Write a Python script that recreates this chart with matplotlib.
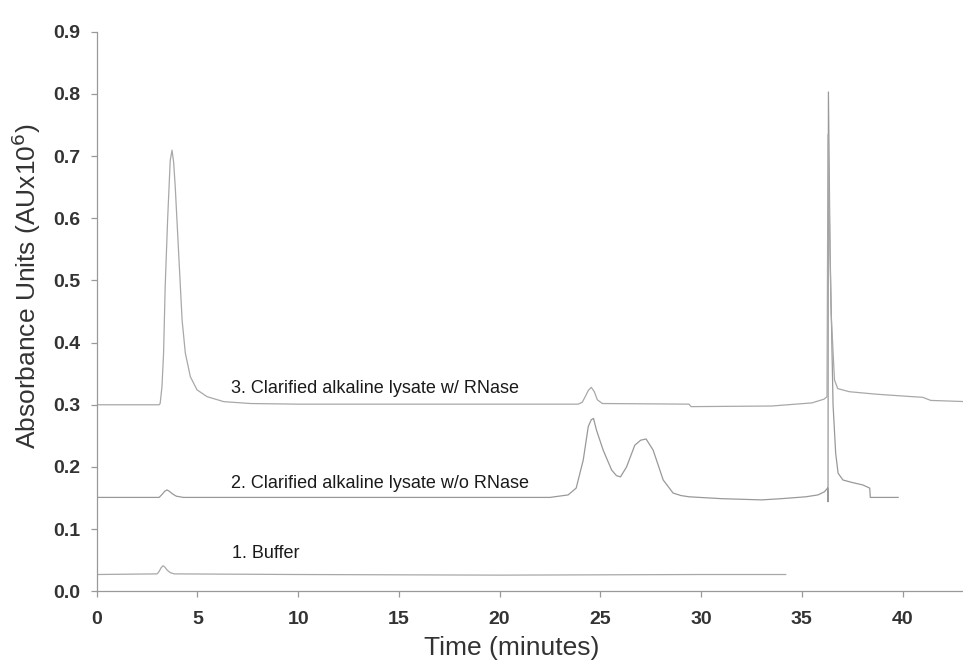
#importing matplotlib
import matplotlib
matplotlib.use("Agg")
import matplotlib.pyplot as plt

plt.rcParams['font.family'] = ['Liberation Sans', 'DejaVu Sans']

#trace 1 - buffer
t1_time = [0, 3.0, 3.1, 3.2, 3.29, 3.38, 3.5, 3.65, 3.85, 10, 20, 30, 34.2]
t1_abs = [0.027, 0.028, 0.032, 0.038, 0.041, 0.039, 0.034, 0.030, 0.028, 0.027, 0.026,
          0.027, 0.027]

#trace 2 - lysate without RNase
t2_time = [0, 3.1, 3.25, 3.38, 3.49, 3.6, 3.75, 3.95, 4.3, 10, 22.5, 23.4, 23.8, 24.15,
           24.4, 24.55, 24.66, 24.81, 25.14, 25.56, 25.8, 26.0, 26.3, 26.71, 27.0, 27.27,
           27.62, 28.12, 28.61, 29.0, 29.4, 31, 32, 33, 34, 35.2, 35.8, 36.12, 36.28,
           36.3, 36.32, 36.4, 36.55, 36.68, 36.8, 37.04, 37.5, 38.03, 38.37, 38.4, 39.78]
t2_abs = [0.151, 0.151, 0.156, 0.161, 0.163, 0.161, 0.157, 0.153, 0.151, 0.151, 0.151,
          0.155, 0.166, 0.211, 0.265, 0.276, 0.278, 0.259, 0.227, 0.195, 0.186, 0.184,
          0.200, 0.235, 0.243, 0.245, 0.227, 0.179, 0.158, 0.154, 0.152, 0.149, 0.148,
          0.147, 0.149, 0.152, 0.155, 0.160, 0.166, 0.144, 0.803, 0.55, 0.30, 0.222,
          0.19, 0.179, 0.175, 0.171, 0.166, 0.151, 0.151]

#trace 3 - lysate with RNase
t3_time = [0, 3.1, 3.15, 3.24, 3.32, 3.40, 3.52, 3.65, 3.74, 3.82, 3.90, 4.07, 4.24,
           4.40, 4.65, 4.98, 5.48, 6.31, 7.64, 10, 23.9, 24.1, 24.25, 24.4, 24.55, 24.7,
           24.85, 25.1, 29.4, 29.5, 33.5, 35.5, 36.1, 36.25, 36.3, 36.45, 36.62, 36.78,
           37.36, 38.7, 40.5, 41.0, 41.4, 43.2]
t3_abs = [0.300, 0.300, 0.302, 0.329, 0.383, 0.49, 0.597, 0.693, 0.7095, 0.69, 0.650,
          0.543, 0.436, 0.383, 0.345, 0.324, 0.313, 0.305, 0.302, 0.301, 0.301, 0.304,
          0.313, 0.323, 0.328, 0.321, 0.308, 0.302, 0.301, 0.297, 0.298, 0.303, 0.309,
          0.313, 0.735, 0.45, 0.340, 0.326, 0.321, 0.317, 0.313, 0.312, 0.307, 0.305]

labels = ["1. Buffer", "2. Clarified alkaline lysate w/o RNase",
          "3. Clarified alkaline lysate w/ RNase"]
label_x = [6.7, 6.65, 6.65]
label_y = [0.0612, 0.1736, 0.326]

#figure
fig = plt.figure(figsize=(9.63, 6.62), dpi=100)
ax = fig.add_axes([0.1004, 0.1068, 0.8996, 0.8453])

ax.plot(t1_time, t1_abs, color='#a8a8a8', lw=0.9)
ax.plot(t2_time, t2_abs, color='#999999', lw=0.9)
ax.plot(t3_time, t3_abs, color='#a8a8a8', lw=0.9)

for txt, x, y in zip(labels, label_x, label_y):
    ax.text(x, y, txt, ha='left', va='center', fontsize=13, color='#1a1a1a')

ax.set_xlim(0, 43.0)
ax.set_ylim(0, 0.9)
ax.set_xticks(range(0, 45, 5))
ax.set_yticks([i / 10 for i in range(10)])
ax.set_yticklabels(['%.1f' % (i / 10) for i in range(10)])

#axes style
for s in ['top', 'right']:
    ax.spines[s].set_visible(False)
for s in ['left', 'bottom']:
    ax.spines[s].set_color('#999999')
    ax.spines[s].set_linewidth(0.9)
ax.tick_params(axis='both', direction='out', length=4, width=0.9, color='#999999',
               labelsize=14, labelcolor='#333333')
ax.tick_params(axis='x', pad=10)
ax.tick_params(axis='y', pad=8)
for lab in ax.get_xticklabels() + ax.get_yticklabels():
    lab.set_fontweight('bold')

fig.text(511.7 / 963, 1 - 648 / 662, 'Time (minutes)', ha='center', va='center',
         fontsize=19, color='#333333')
fig.text(26 / 963, 1 - 286.7 / 662, 'Absorbance Units (AUx10$^{6}$)', ha='center',
         va='center', rotation=90, fontsize=19, color='#333333')

fig.savefig('out.png', dpi=100, facecolor='white')
